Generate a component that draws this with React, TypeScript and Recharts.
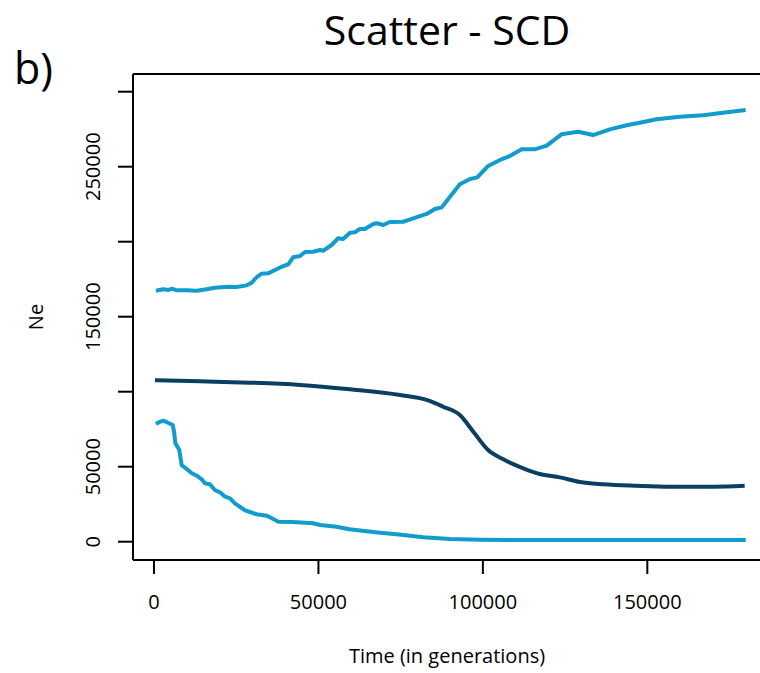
import { LineChart, Line, XAxis, YAxis, ReferenceLine } from 'recharts'

// Ne trajectories (time in generations, Ne)
const upperTime = [600, 2800, 4400, 5400, 6900, 9900, 13000, 16000, 18500, 22600, 25100, 28200, 29700, 31200, 32700, 34700, 36800, 38800, 40800, 42300, 44400, 45900, 48400, 50500, 51500, 54000, 56000, 57500, 59600, 61100, 62600, 64100, 66700, 67700, 69700, 71700, 75800, 78800, 82900, 85400, 87500, 90000, 93000, 96100, 98300, 101600, 105200, 108200, 111800, 115800, 119400, 123900, 129000, 133500, 138600, 143700, 147700, 152800, 159900, 167000, 173000, 179900]
const upperNe = [167300, 168300, 167800, 168700, 167600, 167600, 167300, 168300, 169300, 170000, 169800, 170900, 172700, 176300, 178700, 178900, 181100, 183300, 184900, 189600, 190500, 193100, 193300, 194500, 194000, 197800, 202300, 201800, 206000, 206300, 208500, 208500, 211800, 212300, 211100, 213100, 213300, 215600, 218500, 221800, 222900, 230000, 238300, 241800, 242900, 250500, 254500, 257100, 261600, 261600, 264000, 271600, 273300, 271100, 274900, 277600, 279300, 281600, 283300, 284300, 286000, 287800]

const lowerTime = [600, 1800, 3000, 4400, 5700, 6100, 6500, 7700, 8400, 9700, 11500, 13000, 14500, 15500, 17000, 18500, 20100, 21600, 23100, 24600, 26100, 27700, 29200, 31200, 34300, 35800, 37800, 42300, 48400, 50500, 55500, 59400, 68700, 73800, 81900, 90000, 99100, 119400, 179900]
const lowerNe = [78500, 80000, 80700, 79100, 77800, 73300, 65600, 61100, 51100, 48900, 45600, 44000, 41600, 38900, 38300, 34500, 32900, 30000, 28900, 25600, 23300, 20900, 19800, 18300, 17300, 15600, 13300, 13100, 12300, 11100, 10000, 8300, 6000, 4900, 2900, 1800, 1300, 1100, 1100]

const meanTime = [300, 14000, 29200, 44400, 59600, 74800, 82900, 87900, 93000, 97100, 101600, 106200, 112300, 117300, 123400, 129500, 136600, 146700, 156800, 170000, 179600]
const meanNe = [107600, 106900, 106000, 104500, 101600, 97800, 94500, 90000, 84500, 73300, 61100, 54900, 48900, 45100, 42900, 39800, 38300, 37300, 36700, 36700, 37300]

const xTicks = [0, 50000, 100000, 150000]
const yTicks = [0, 50000, 100000, 150000, 200000, 250000, 300000]
const yLabelled = [0, 50000, 150000, 250000]

const xDomain: [number, number] = [-6385, 187300]
const yDomain: [number, number] = [-12200, 311800]

const toRows = (t: number[], ne: number[]) => t.map((time, i) => ({ time, ne: ne[i] }))

const upper = toRows(upperTime, upperNe)
const lower = toRows(lowerTime, lowerNe)
const mean = toRows(meanTime, meanNe)

const FONT = '"Open Sans", "Noto Sans", sans-serif'
const LIGHT = '#129ccd'
const DARK = '#0b3e63'
const frame = { stroke: '#000', strokeWidth: 2 }

const XTick = ({ x, y, payload }: { x?: number; y?: number; payload?: { value: number } }) => (
  <text x={x} y={(y ?? 0) + 33} textAnchor="middle" fontSize={20} fontFamily={FONT} fill="#000">
    {payload?.value}
  </text>
)

const YTick = ({ x, y, payload }: { x?: number; y?: number; payload?: { value: number } }) => {
  if (!payload || !yLabelled.includes(payload.value)) return <g />
  const bx = (x ?? 0) - 16
  return (
    <text x={bx} y={y} transform={`rotate(-90, ${bx}, ${y})`} textAnchor="middle" fontSize={20} fontFamily={FONT} fill="#000">
      {payload.value}
    </text>
  )
}

export default function App() {
  return (
    <div style={{ position: 'absolute', left: 0, top: 0, width: 760, height: 673, overflow: 'hidden', background: '#fff' }}>
      <LineChart width={780} height={673} margin={{ top: 74, right: 10, bottom: 0, left: 0 }}>
        <XAxis
          dataKey="time"
          type="number"
          domain={xDomain}
          allowDataOverflow
          ticks={xTicks}
          tickSize={14}
          axisLine={frame}
          tickLine={frame}
          tick={<XTick />}
          height={113}
        />
        <YAxis
          dataKey="ne"
          type="number"
          domain={yDomain}
          allowDataOverflow
          ticks={yTicks}
          tickSize={15}
          axisLine={frame}
          tickLine={frame}
          tick={<YTick />}
          width={133}
        />
        {/* top side of the box */}
        <ReferenceLine y={yDomain[1]} stroke="#000" strokeWidth={2} ifOverflow="visible" />
        <Line data={upper} dataKey="ne" type="linear" stroke={LIGHT} strokeWidth={4} dot={false} isAnimationActive={false} strokeLinejoin="round" />
        <Line data={lower} dataKey="ne" type="linear" stroke={LIGHT} strokeWidth={4} dot={false} isAnimationActive={false} strokeLinejoin="round" />
        <Line data={mean} dataKey="ne" type="monotone" stroke={DARK} strokeWidth={4} dot={false} isAnimationActive={false} strokeLinejoin="round" />
      </LineChart>
      <svg width={760} height={673} style={{ position: 'absolute', left: 0, top: 0, pointerEvents: 'none' }}>
        <text x={447} y={45} textAnchor="middle" fontSize={41} fontFamily={FONT} fill="#000">Scatter - SCD</text>
        <text x={14} y={84} fontSize={43} fontFamily={FONT} fill="#000">b)</text>
        <text x={43} y={317} transform="rotate(-90, 43, 317)" textAnchor="middle" fontSize={20} fontFamily={FONT} fill="#000">Ne</text>
        <text x={447} y={663} textAnchor="middle" fontSize={20} fontFamily={FONT} fill="#000">Time (in generations)</text>
      </svg>
    </div>
  )
}
